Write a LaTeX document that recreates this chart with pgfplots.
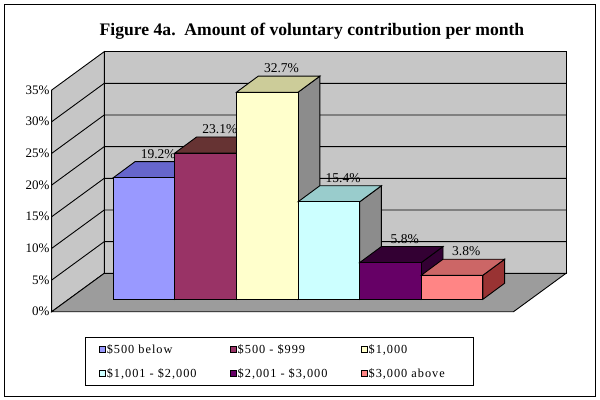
\documentclass[border=0pt]{standalone}
\usepackage{pgfplots}
\pgfplotsset{compat=1.18}
\usepackage{fontspec}
\setmainfont{Liberation Serif}
\newfontfamily\legfont[LetterSpace=8]{Liberation Serif}
\definecolor{wallc}{HTML}{C6C6C6}
\definecolor{floorc}{HTML}{9C9C9C}
\definecolor{grayside}{HTML}{8C8C8C}
\definecolor{cAf}{HTML}{9999FF}\definecolor{cAt}{HTML}{6666CC}\definecolor{cAs}{HTML}{333399}
\definecolor{cBf}{HTML}{993366}\definecolor{cBt}{HTML}{663333}\definecolor{cBs}{HTML}{4D1A33}
\definecolor{cCf}{HTML}{FFFFCC}\definecolor{cCt}{HTML}{CCCC99}
\definecolor{cDf}{HTML}{CCFFFF}\definecolor{cDt}{HTML}{99CCCC}
\definecolor{cEf}{HTML}{660066}\definecolor{cEt}{HTML}{330033}\definecolor{cEs}{HTML}{330033}
\definecolor{cFf}{HTML}{FF8585}\definecolor{cFt}{HTML}{CC6666}\definecolor{cFs}{HTML}{993333}
\newcommand\lblfont{\fontsize{13.5bp}{15bp}\selectfont}
% #1 index, #2 value, #3 front, #4 top, #5 side
\newcommand\drawbar[5]{%
 \pgfmathsetmacro\bxl{113.3+61.6*#1}%
 \pgfmathsetmacro\bxr{\bxl+61.6}%
 \pgfmathsetmacro\bxlb{\bxl+21.7}%
 \pgfmathsetmacro\bxrb{\bxr+21.7}%
 \pgfmathsetmacro\byt{#2+1.96}%
 \pgfmathsetmacro\bytb{\byt+2.53}%
 \pgfmathsetmacro\bxc{\bxl+45}%
 \pgfmathsetmacro\byl{\byt+3.05}%
 \addplot[forget plot, fill=#5, draw=black, line width=0.9bp] coordinates {(\bxr,1.96) (\bxr,\byt) (\bxrb,\bytb) (\bxrb,4.49)} --cycle;
 \addplot[forget plot, fill=#4, draw=black, line width=0.9bp] coordinates {(\bxl,\byt) (\bxr,\byt) (\bxrb,\bytb) (\bxlb,\bytb)} --cycle;
 \addplot[forget plot, fill=#3, draw=black, line width=0.9bp] coordinates {(\bxl,1.96) (\bxr,1.96) (\bxr,\byt) (\bxl,\byt)} --cycle;
 \addplot[forget plot, draw=none, mark=none, point meta=explicit,
   nodes near coords={\pgfmathprintnumber[fixed,fixed zerofill,precision=1]{\pgfplotspointmeta}\%},
   nodes near coords align={center},
   every node near coord/.append style={anchor=base, inner sep=0pt, font=\lblfont, text=black}]
   coordinates {(\bxc,\byl) [#2]};
}
\begin{document}
\begin{tikzpicture}
\begin{axis}[
  x=1bp, y=6.333bp,
  xmin=51.7, xmax=566, ymin=0, ymax=41.06,
  clip=false,
  axis line style={draw=none},
  xtick=\empty,
  ytick={0,5,...,35},
  major tick length=0pt,
  /pgf/number format/assume math mode=true,
  yticklabel={\pgfmathprintnumber{\tick}\%},
  yticklabel style={font=\fontsize{13bp}{15bp}\selectfont, inner sep=2bp},
  legend image code/.code={\draw[#1] (0bp,-3bp) rectangle (6bp,3bp);},
  legend columns=3,
  legend style={at={(0.06475,-0.09615)}, anchor=north west, draw=black, line width=0.9bp,
    font=\legfont\fontsize{12.3bp}{14bp}\selectfont,
    inner xsep=14bp, inner ysep=6.5bp, row sep=11bp,
    nodes={inner sep=0.5bp}},
]
% walls and floor
\addplot[forget plot, fill=wallc, draw=black, line width=0.9bp] coordinates {(51.7,0) (51.7,35) (104.2,41.06) (104.2,6.06)} --cycle;
\addplot[forget plot, fill=wallc, draw=black, line width=0.9bp] coordinates {(104.2,6.06) (104.2,41.06) (566,41.06) (566,6.06)} --cycle;
\addplot[forget plot, fill=floorc, draw=black, line width=0.9bp] coordinates {(51.7,0) (513.5,0) (566,6.06) (104.2,6.06)} --cycle;
% gridlines
\addplot[forget plot, black, line width=0.9bp] coordinates {(51.7,5) (104.2,11.06) (566,11.06)};
\addplot[forget plot, black, line width=0.9bp] coordinates {(51.7,10) (104.2,16.06) (566,16.06)};
\addplot[forget plot, black, line width=0.9bp] coordinates {(51.7,15) (104.2,21.06) (566,21.06)};
\addplot[forget plot, black, line width=0.9bp] coordinates {(51.7,20) (104.2,26.06) (566,26.06)};
\addplot[forget plot, black, line width=0.9bp] coordinates {(51.7,25) (104.2,31.06) (566,31.06)};
\addplot[forget plot, black, line width=0.9bp] coordinates {(51.7,30) (104.2,36.06) (566,36.06)};
% bars: index, value (%), colours
\drawbar{0}{19.2}{cAf}{cAt}{cAs}
\drawbar{1}{23.1}{cBf}{cBt}{cBs}
\drawbar{2}{32.7}{cCf}{cCt}{grayside}
\drawbar{3}{15.4}{cDf}{cDt}{grayside}
\drawbar{4}{5.8}{cEf}{cEt}{cEs}
\drawbar{5}{3.8}{cFf}{cFt}{cFs}
% legend
\addlegendimage{fill=cAf, draw=black}\addlegendentry{\makebox[123bp][l]{\strut\$500 below}}
\addlegendimage{fill=cBf, draw=black}\addlegendentry{\makebox[123bp][l]{\strut\$500 - \$999}}
\addlegendimage{fill=cCf, draw=black}\addlegendentry{\makebox[90bp][l]{\strut\$1,000}}
\addlegendimage{fill=cDf, draw=black}\addlegendentry{\makebox[123bp][l]{\strut\$1,001 - \$2,000}}
\addlegendimage{fill=cEf, draw=black}\addlegendentry{\makebox[123bp][l]{\strut\$2,001 - \$3,000}}
\addlegendimage{fill=cFf, draw=black}\addlegendentry{\makebox[90bp][l]{\strut\$3,000 above}}
% title and frame
\node[anchor=base, font=\bfseries\fontsize{17.6bp}{20bp}\selectfont] at (axis cs:312,43.69) {Figure 4a.\ \ Amount of voluntary contribution per month};
\draw[line width=1bp] (axis cs:5,48.43) rectangle (axis cs:595,-13.39);
\path (axis cs:0,49.22) rectangle (axis cs:600,-13.785);
\end{axis}
\end{tikzpicture}
\end{document}
